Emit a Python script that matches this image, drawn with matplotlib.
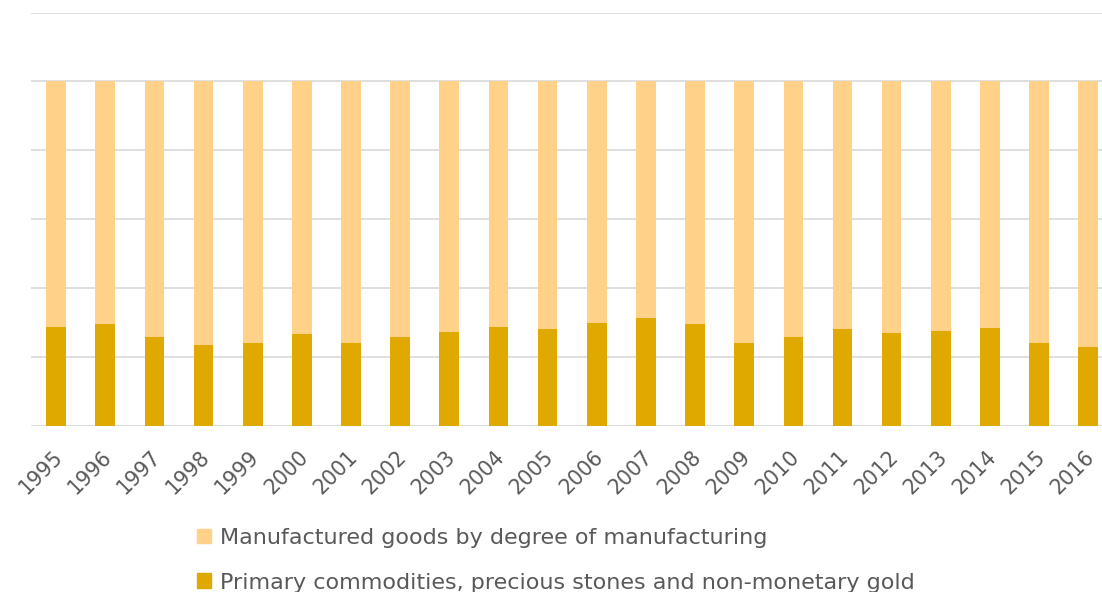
import numpy as np
import matplotlib
matplotlib.use("Agg")
import matplotlib.pyplot as plt
import matplotlib.transforms as mtransforms
from matplotlib.patches import Patch

years = [str(y) for y in range(1995, 2017)]
# share of primary commodities (%), rest is manufactured goods
primary = [28.7, 29.5, 25.7, 23.5, 23.9, 26.5, 23.9, 25.7, 27.2, 28.7, 28.0,
           29.9, 31.3, 29.5, 23.9, 25.7, 28.0, 26.9, 27.6, 28.3, 23.9, 22.7]
manufactured = [100 - p for p in primary]

c_manu = "#FFD189"
c_prim = "#E0A900"
txt = "#595959"

fig = plt.figure(figsize=(11.02, 5.92), dpi=100)
ax = fig.add_axes([31 / 1102, (592 - 425.5) / 592, (1102 - 31) / 1102, 413 / 592])

x = np.arange(len(years))
ax.bar(x, primary, width=0.4, color=c_prim, zorder=3)
ax.bar(x, manufactured, width=0.4, bottom=primary, color=c_manu, zorder=3)

ax.set_xlim(-0.51, 21.28)
ax.set_ylim(0, 120)
ax.set_yticks(range(0, 121, 20))
ax.yaxis.grid(True, color="#D9D9D9", linewidth=1.2, zorder=0)
ax.tick_params(axis="y", length=0, labelleft=False)
ax.tick_params(axis="x", length=0, pad=15)
for s in ax.spines.values():
    s.set_visible(False)

ax.set_xticks(x)
ax.set_xticklabels(years, rotation=45, ha="right", va="top", rotation_mode="anchor",
                   fontsize=14.8, color=txt, family="DejaVu Sans")
shift = mtransforms.ScaledTranslation(-4 / 100, 0, fig.dpi_scale_trans)
for lbl in ax.get_xticklabels():
    lbl.set_transform(lbl.get_transform() + shift)

handles = [Patch(color=c_manu, label="Manufactured goods by degree of manufacturing"),
           Patch(color=c_prim, label="Primary commodities, precious stones and non-monetary gold")]
fig.legend(handles=handles, loc="lower left", bbox_to_anchor=(177 / 1102, -0.035),
           frameon=False, handlelength=0.65, handleheight=0.65, handletextpad=0.4,
           labelspacing=1.12, prop={"family": "DejaVu Sans", "size": 16}, labelcolor=txt)

fig.savefig("out.png", dpi=100)
